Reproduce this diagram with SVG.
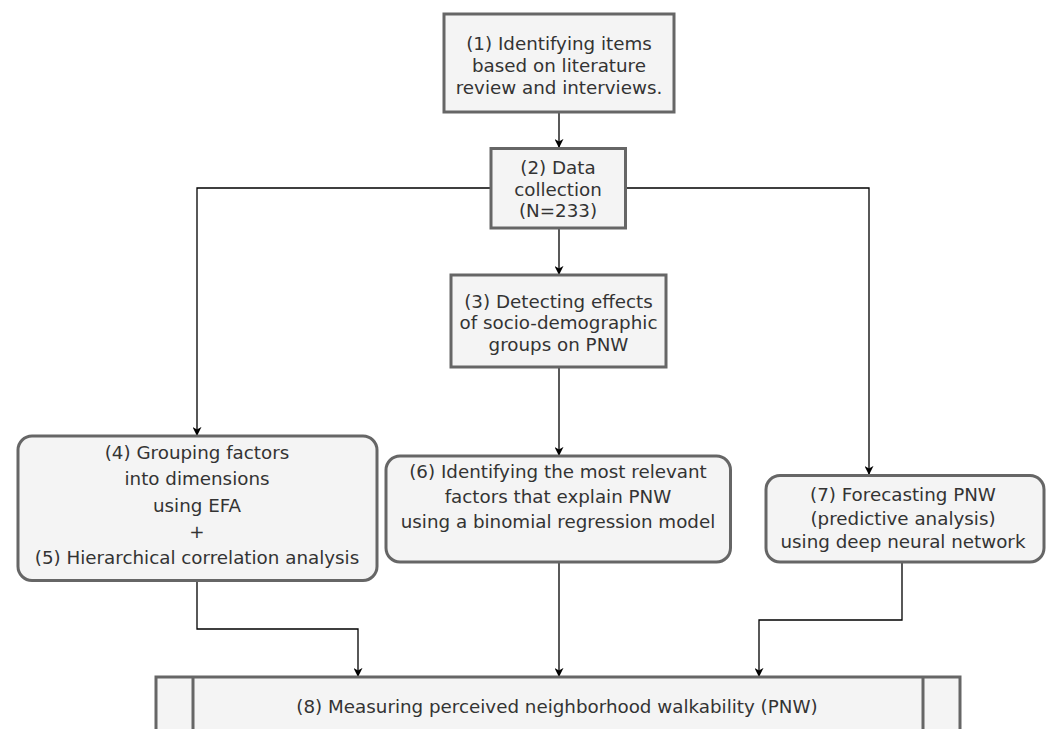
<svg xmlns="http://www.w3.org/2000/svg" width="1046" height="729" viewBox="0 0 1046 729">
  <style>
    .box { fill: #f4f4f4; stroke: #666666; stroke-width: 3; }
    .t { font-family: "DejaVu Sans", Verdana, sans-serif; font-size: 18.3px; fill: #333333; text-anchor: middle; }
    .c { fill: none; stroke: #000000; stroke-width: 1.3; marker-end: url(#arr); }
  </style>
  <defs>
    <marker id="arr" viewBox="0 0 10 10" refX="9" refY="5" markerWidth="9" markerHeight="9" markerUnits="userSpaceOnUse" orient="auto">
      <path d="M0,0 L10,5 L0,10 L3,5 Z" fill="#000000"/>
    </marker>
  </defs>
  <rect width="1046" height="729" fill="#ffffff"/>

  <g id="connectors">
    <path class="c" d="M559,113 L559,147"/>
    <path class="c" d="M559,228 L559,274"/>
    <path class="c" d="M491,188 L197,188 L197,435"/>
    <path class="c" d="M625,188 L869,188 L869,474"/>
    <path class="c" d="M559,367 L559,455"/>
    <path class="c" d="M197,581 L197,629 L358,629 L358,676"/>
    <path class="c" d="M559,562 L559,676"/>
    <path class="c" d="M902,562 L902,620 L759,620 L759,676"/>
  </g>

  <g id="node1">
    <rect class="box" x="444" y="14" width="230" height="98"/>
    <text class="t" x="559" y="50">(1) Identifying items</text>
    <text class="t" x="559" y="72">based on literature</text>
    <text class="t" x="559" y="93.5">review and interviews.</text>
  </g>

  <g id="node2">
    <rect class="box" x="491" y="148.5" width="134.5" height="79.5"/>
    <text class="t" x="558" y="174">(2) Data</text>
    <text class="t" x="558" y="196">collection</text>
    <text class="t" x="558" y="217">(N=233)</text>
  </g>

  <g id="node3">
    <rect class="box" x="451" y="275" width="215" height="92"/>
    <text class="t" x="558.5" y="307.7">(3) Detecting effects</text>
    <text class="t" x="558.5" y="329">of socio-demographic</text>
    <text class="t" x="558.5" y="350.7">groups on PNW</text>
  </g>

  <g id="node4">
    <rect class="box" x="18" y="436" width="359" height="144.5" rx="14" ry="14"/>
    <text class="t" x="197" y="459">(4) Grouping factors</text>
    <text class="t" x="197" y="485">into dimensions</text>
    <text class="t" x="197" y="511.7">using EFA</text>
    <text class="t" x="197" y="538">+</text>
    <text class="t" x="197" y="564">(5) Hierarchical correlation analysis</text>
  </g>

  <g id="node6">
    <rect class="box" x="386" y="456" width="344.5" height="106" rx="14" ry="14"/>
    <text class="t" x="558" y="477.7">(6) Identifying the most relevant</text>
    <text class="t" x="558" y="503">factors that explain PNW</text>
    <text class="t" x="558" y="528">using a binomial regression model</text>
  </g>

  <g id="node7">
    <rect class="box" x="766" y="475.5" width="278" height="86.5" rx="14" ry="14"/>
    <text class="t" x="903" y="501">(7) Forecasting PNW</text>
    <text class="t" x="903" y="525">(predictive analysis)</text>
    <text class="t" x="903" y="548.3">using deep neural network</text>
  </g>

  <g id="node8">
    <rect class="box" x="156" y="677" width="804" height="70"/>
    <line x1="193" y1="677" x2="193" y2="740" stroke="#666666" stroke-width="3"/>
    <line x1="923" y1="677" x2="923" y2="740" stroke="#666666" stroke-width="3"/>
    <text class="t" x="557" y="713">(8) Measuring perceived neighborhood walkability (PNW)</text>
  </g>
</svg>
